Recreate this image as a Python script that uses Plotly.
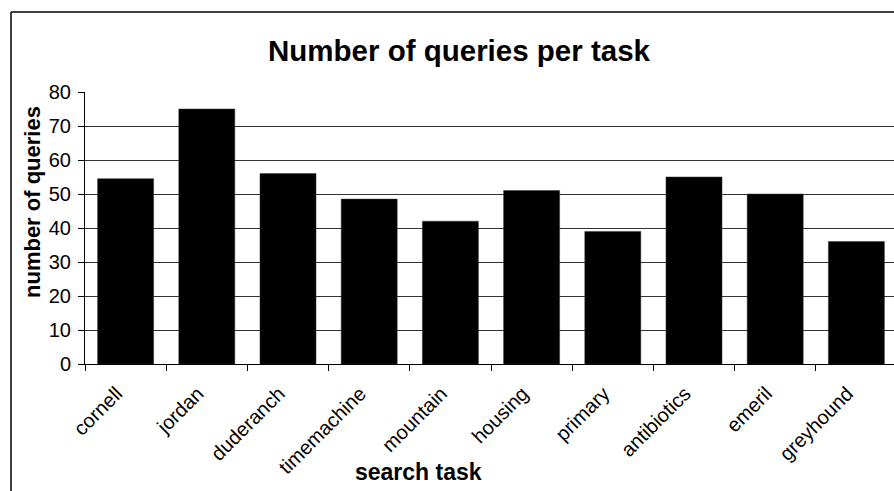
import plotly.graph_objects as go

tasks = ["cornell", "jordan", "duderanch", "timemachine", "mountain",
         "housing", "primary", "antibiotics", "emeril", "greyhound"]
queries = [54.5, 75, 56, 48.5, 42, 51, 39, 55, 50, 36]
y_ticks = [0, 10, 20, 30, 40, 50, 60, 70, 80]

W, H = 894, 491
L, R, T, B = 85, 0, 92, 127
pw, ph = W - L - R, H - T - B

def px_x(x):
    return (x - L) / pw

def px_y(y):
    return (H - B - y) / ph

FONT = "Arial, 'Liberation Sans', sans-serif"

fig = go.Figure(go.Bar(
    x=tasks, y=queries,
    marker=dict(color="black", line=dict(color="#333", width=0.5)),
))

fig.update_layout(
    width=W, height=H,
    margin=dict(l=L, r=R, t=T, b=B),
    paper_bgcolor="white", plot_bgcolor="white",
    bargap=0.31,
    showlegend=False,
    font=dict(family=FONT, color="black"),
    title=dict(text="<b>Number of queries per task</b>",
               font=dict(size=29.5, family=FONT, color="black"),
               x=459 / W, xref="container", xanchor="center",
               y=1 - 51 / H, yref="container", yanchor="middle"),
    xaxis=dict(
        type="category",
        range=[-0.5, -0.5 + pw / (812 / 10)],
        tickangle=-45,
        tickfont=dict(size=20, family=FONT, color="black"),
        ticks="outside", ticklen=6, tickcolor="black",
        tickson="boundaries",
        ticklabelstandoff=9,
        ticklabelshift=-9,
        showline=True, linecolor="black", linewidth=1,
        showgrid=False,
    ),
    yaxis=dict(
        range=[0, 80],
        tickvals=y_ticks,
        tickfont=dict(size=20, family=FONT, color="black"),
        ticks="outside", ticklen=6, tickcolor="black",
        ticklabelstandoff=3,
        showline=True, linecolor="black", linewidth=1,
        showgrid=True, gridcolor="#333", gridwidth=1,
        zeroline=False,
    ),
    annotations=[
        dict(text="<b>number of queries</b>", textangle=-90,
             xref="paper", yref="paper", x=px_x(32), y=px_y(202),
             xanchor="center", yanchor="middle", showarrow=False,
             font=dict(size=22, family=FONT, color="black")),
        dict(text="<b>search task</b>",
             xref="paper", yref="paper", x=px_x(418), y=px_y(472),
             xanchor="center", yanchor="middle", showarrow=False,
             font=dict(size=23, family=FONT, color="black")),
    ],
    shapes=[
        dict(type="line", xref="paper", yref="paper",
             x0=px_x(11), x1=px_x(W + 5), y0=px_y(12), y1=px_y(12),
             line=dict(color="black", width=1.5)),
        dict(type="line", xref="paper", yref="paper",
             x0=px_x(11), x1=px_x(11), y0=px_y(12), y1=px_y(H + 5),
             line=dict(color="black", width=1.5)),
    ],
)

fig.write_html("out.html")
